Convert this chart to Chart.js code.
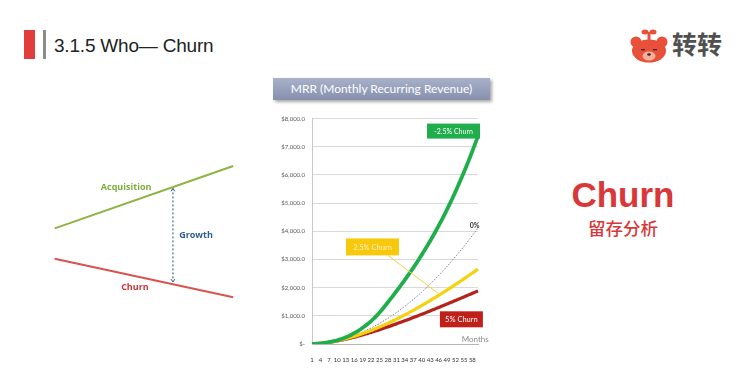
<!DOCTYPE html>
<html>
<head>
<meta charset="utf-8">
<script src="https://cdn.jsdelivr.net/npm/chart.js@4.4.1/dist/chart.umd.min.js"></script>
<style>
  html, body { margin: 0; padding: 0; background: #fff; }
  body { width: 741px; height: 370px; position: relative; overflow: hidden; font-family: "Liberation Sans", Arial, sans-serif; }
  .abs { position: absolute; }
  #redBar { left: 24px; top: 30px; width: 11px; height: 29px; background: #e23d3d; }
  #grayBar { left: 43px; top: 30px; width: 3px; height: 29px; background: #8c8c8c; }
  #title { left: 54px; top: 34px; font-size: 19px; line-height: 24px; color: #222; white-space: nowrap; letter-spacing: -0.2px; }
  #brand { left: 672px; top: 30px; font-family: "Noto Sans CJK SC"; font-weight: 700; font-size: 25px; line-height: 26px; color: #505050; }
  #bigChurn { left: 523px; top: 175px; width: 200px; text-align: center; font-weight: 700; font-size: 35px; line-height: 40px; color: #d8383a; }
  #subChurn { left: 523px; top: 219px; width: 200px; text-align: center; font-family: "Noto Sans CJK SC"; font-weight: 500; font-size: 17.5px; line-height: 18px; color: #d8383a; }
  #mrrTitle { left: 273px; top: 78px; width: 217px; height: 22px; line-height: 22px; text-align: center;
              background: linear-gradient(#a9b1ca, #8690ad); color: #fff; font-family: Lato, sans-serif; font-size: 12px;
              box-shadow: 2px 2px 3px rgba(0,0,0,0.35); }
  #diagram { left: 40px; top: 150px; }
  #mrr { left: 270px; top: 108px; }
  #bear { left: 628px; top: 26px; }
</style>
</head>
<body>
<div id="redBar" class="abs"></div>
<div id="grayBar" class="abs"></div>
<div id="title" class="abs">3.1.5 Who— Churn</div>
<canvas id="bear" class="abs" width="42" height="40"></canvas>
<div id="brand" class="abs">转转</div>
<div id="bigChurn" class="abs">Churn</div>
<div id="subChurn" class="abs">留存分析</div>
<div id="mrrTitle" class="abs">MRR (Monthly Recurring Revenue)</div>
<canvas id="diagram" class="abs" width="210" height="160"></canvas>
<canvas id="mrr" class="abs" width="225" height="256"></canvas>

<script>
// months 1..60 on the x axis, only every third one is labelled
const months = Array.from({length: 60}, (_, i) => String(i + 1));
const shownMonths = ['1','4','7','10','13','16','19','22','25','28','31','34','37','40','43','46','49','52','55','58'];

// MRR per month
const negChurn = [2,7,14,23,35,49,66,86,108,134, 163,197,236,280,329,383,442,506,575,649,
  728,813,905,1005,1115,1233,1355,1481,1610,1740, 1872,2004,2139,2276,2415,2558,2704,2854,3007,3163,
  3324,3489,3658,3832,4010,4194,4382,4576,4775,4980, 5191,5408,5631,5861,6097,6340,6590,6847,7112,7384];
const zeroChurn = [2,7,14,23,34,47,63,81,101,124, 149,176,205,236,270,306,344,385,428,473,
  520,569,621,675,731,790,851,914,979,1046, 1116,1188,1262,1339,1418,1499,1582,1667,1755,1845,
  1937,2032,2129,2228,2329,2432,2538,2646,2756,2869, 2984,3101,3220,3341,3465,3591,3719,3850,3983,4118];
const churn25 = [2,7,13,22,33,45,60,76,95,115, 137,160,186,212,241,271,302,335,370,405,
  443,481,521,562,604,647,692,738,784,832, 881,931,982,1034,1087,1141,1196,1251,1308,1365,
  1423,1482,1542,1602,1663,1725,1788,1851,1915,1980, 2045,2111,2177,2244,2312,2380,2449,2518,2588,2658];
const churn5 = [2,7,13,21,32,44,57,72,89,107, 126,147,169,192,216,241,268,295,323,352,
  381,412,443,475,507,540,574,608,643,679, 714,751,787,824,862,900,938,977,1016,1055,
  1094,1134,1174,1214,1255,1296,1337,1378,1419,1461, 1503,1544,1586,1629,1671,1713,1756,1799,1841,1884];

// left diagram: two straight lines and the gap between them
const diagramX = [0.7, 9.2];
const acquisitionY = [5.1, 9.0];
const churnLineY = [3.2, 0.8];
const growthX = 6.33;
const growthY = [7.6, 1.75];

Chart.defaults.font.family = 'Lato, sans-serif';
Chart.defaults.animation = false;

function money(v) {
  if (v === 0) return '$-';
  return '$' + v.toLocaleString('en-US', {minimumFractionDigits: 1, maximumFractionDigits: 1});
}

function labelBox(ctx, cx, cy, w, h, fill, color, text, size) {
  ctx.fillStyle = fill;
  ctx.fillRect(cx - w / 2, cy - h / 2, w, h);
  ctx.fillStyle = color;
  ctx.font = size + 'px Lato, sans-serif';
  ctx.textAlign = 'center';
  ctx.textBaseline = 'middle';
  ctx.fillText(text, cx, cy + 0.5);
}

// text boxes and notes on top of the MRR lines
const mrrNotes = {
  id: 'mrrNotes',
  afterDatasetsDraw(chart) {
    const ctx = chart.ctx;
    const x = chart.scales.x, y = chart.scales.y;
    ctx.save();
    ctx.strokeStyle = '#f2d43a';
    ctx.lineWidth = 1;
    ctx.beginPath();
    ctx.moveTo(x.getPixelForValue(27.0), y.getPixelForValue(3144));
    ctx.lineTo(x.getPixelForValue(44.8), y.getPixelForValue(1797));
    ctx.stroke();

    labelBox(ctx, x.getPixelForValue(50.3), y.getPixelForValue(7557), 53, 15, '#1fae4b', '#fff', '-2.5% Churn', 7);
    labelBox(ctx, x.getPixelForValue(21.5), y.getPixelForValue(3446), 53, 17, '#f7c80c', '#fdf0c0', '2.5% Churn', 7.5);
    labelBox(ctx, x.getPixelForValue(53.1), y.getPixelForValue(876), 43, 16, '#c0201a', '#fff', '5% Churn', 7.5);

    ctx.fillStyle = '#333';
    ctx.font = 'bold 7px Lato, sans-serif';
    ctx.textAlign = 'center';
    ctx.fillText('0%', x.getPixelForValue(57.8), y.getPixelForValue(4208));

    ctx.fillStyle = '#8a8a8a';
    ctx.font = '8px Lato, sans-serif';
    ctx.fillText('Months', x.getPixelForValue(58.0), y.getPixelForValue(165));
    ctx.restore();
  }
};

new Chart(document.getElementById('mrr'), {
  type: 'line',
  data: {
    labels: months,
    datasets: [
      { label: '-2.5% Churn', data: negChurn, borderColor: '#1fae4b', borderWidth: 3.8 },
      { label: '2.5% Churn', data: churn25, borderColor: '#f5d20f', borderWidth: 3.2 },
      { label: '5% Churn', data: churn5, borderColor: '#b3231c', borderWidth: 3.2 },
      { label: '0%', data: zeroChurn, borderColor: '#7d7f9e', borderWidth: 1, borderDash: [1.5, 1.5] }
    ]
  },
  options: {
    responsive: false,
    layout: { padding: { top: 10, right: 17, left: 0, bottom: 0 } },
    elements: { point: { radius: 0 }, line: { tension: 0.3, fill: false } },
    scales: {
      x: {
        grid: { display: false },
        border: { display: true, color: '#b5b5b5', dash: [2, 2] },
        afterFit: s => { s.height = 20; },
        ticks: {
          autoSkip: false, maxRotation: 0, padding: 4,
          color: '#333', font: { size: 6 },
          callback: function(v) {
            const m = this.getLabelForValue(v);
            return shownMonths.includes(m) ? m : '';
          }
        }
      },
      y: {
        min: 0, max: 8000,
        afterFit: s => { s.width = 42; },
        border: { display: true, color: '#c8c8c8' },
        grid: { drawTicks: false, color: c => c.tick && c.tick.value === 0 ? 'rgba(0,0,0,0)' : '#d9d9d9' },
        ticks: { stepSize: 1000, padding: 7, color: '#595959', font: { size: 6 }, callback: v => money(v) }
      }
    },
    plugins: { legend: { display: false }, tooltip: { enabled: false } }
  },
  plugins: [mrrNotes]
});

// labels and arrow heads for the acquisition / churn diagram
const diagramNotes = {
  id: 'diagramNotes',
  afterDatasetsDraw(chart) {
    const ctx = chart.ctx;
    const x = chart.scales.x, y = chart.scales.y;
    ctx.save();
    ctx.font = 'bold 9px "Open Sans", sans-serif';
    ctx.textAlign = 'center';
    ctx.textBaseline = 'middle';
    ctx.fillStyle = '#7cac3b';
    ctx.fillText('Acquisition', x.getPixelForValue(4.1), y.getPixelForValue(7.69));
    ctx.fillStyle = '#2f5d8c';
    ctx.fillText('Growth', x.getPixelForValue(7.43), y.getPixelForValue(4.63));
    ctx.fillStyle = '#c9343a';
    ctx.fillText('Churn', x.getPixelForValue(4.52), y.getPixelForValue(1.44));

    const ax = x.getPixelForValue(growthX);
    const top = y.getPixelForValue(growthY[0]);
    const bot = y.getPixelForValue(growthY[1]);
    ctx.strokeStyle = '#3d6b8e';
    ctx.lineWidth = 1;
    ctx.beginPath();
    ctx.moveTo(ax - 2, top + 3); ctx.lineTo(ax, top); ctx.lineTo(ax + 2, top + 3);
    ctx.moveTo(ax - 2, bot - 3); ctx.lineTo(ax, bot); ctx.lineTo(ax + 2, bot - 3);
    ctx.stroke();
    ctx.restore();
  }
};

new Chart(document.getElementById('diagram'), {
  type: 'line',
  data: {
    datasets: [
      { data: diagramX.map((v, i) => ({x: v, y: acquisitionY[i]})), borderColor: '#8cb444', borderWidth: 2 },
      { data: diagramX.map((v, i) => ({x: v, y: churnLineY[i]})), borderColor: '#d9534f', borderWidth: 2 },
      { data: growthY.map(v => ({x: growthX, y: v})), borderColor: '#3d6b8e', borderWidth: 1.2, borderDash: [2, 2] }
    ]
  },
  options: {
    responsive: false,
    layout: { padding: 0 },
    elements: { point: { radius: 0 } },
    scales: {
      x: { type: 'linear', min: 0, max: 10, display: false },
      y: { min: 0, max: 10, display: false }
    },
    plugins: { legend: { display: false }, tooltip: { enabled: false } }
  },
  plugins: [diagramNotes]
});

// small bear logo next to the brand name
(function drawBear() {
  const c = document.getElementById('bear').getContext('2d');
  const red = '#e8503a';
  c.fillStyle = red;
  c.beginPath(); c.arc(8, 16, 5.5, 0, Math.PI * 2); c.fill();
  c.beginPath(); c.arc(34, 16, 5.5, 0, Math.PI * 2); c.fill();
  c.beginPath(); c.ellipse(21, 25, 17, 11.5, 0, 0, Math.PI * 2); c.fill();
  c.fillRect(19.5, 6, 3, 8);
  c.beginPath(); c.ellipse(17, 6, 3.5, 2.5, 0, 0, Math.PI * 2); c.fill();
  c.beginPath(); c.ellipse(25, 6, 3.5, 2.5, 0, 0, Math.PI * 2); c.fill();
  c.fillStyle = '#f6b09a';
  c.beginPath(); c.ellipse(21, 30, 6.5, 4.5, 0, 0, Math.PI * 2); c.fill();
  c.fillStyle = '#3a2a2a';
  c.beginPath(); c.ellipse(21, 28.5, 1.8, 1.2, 0, 0, Math.PI * 2); c.fill();
  c.fillRect(13, 23, 4, 1.3);
  c.fillRect(25, 23, 4, 1.3);
})();
</script>
</body>
</html>
